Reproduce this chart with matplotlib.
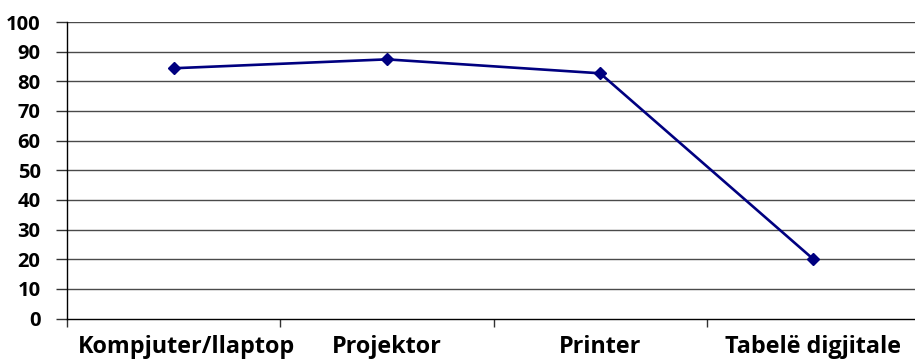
import matplotlib
matplotlib.use('Agg')
import matplotlib.pyplot as plt
import matplotlib.transforms as mtransforms
import numpy as np

# Pajisjet dhe përqindjet
pajisjet = ['Kompjuter/llaptop', 'Projektor', 'Printer', 'Tabelë digjitale']
perqindjet = [84.4, 87.4, 82.7, 20]

plt.rcParams['font.family'] = ['Open Sans', 'DejaVu Sans']

fig = plt.figure(figsize=(9.15, 3.59), dpi=100)
ax = fig.add_axes([67 / 915, 40.5 / 359, 853 / 915, 296.5 / 359])

x = np.arange(len(pajisjet)) + 0.5
ax.plot(x, perqindjet, color='#000080', linewidth=1.9, marker='D',
        markersize=6.5, markerfacecolor='#000080', markeredgecolor='#000080',
        zorder=3)

ax.set_xlim(0, len(pajisjet))
ax.set_ylim(0, 100)
ax.set_yticks(np.arange(0, 101, 10))

# Vijat horizontale
for v in np.arange(10, 101, 10):
    ax.axhline(v, color='#4a4a4a', linewidth=1.0, zorder=1)

# Ndarjet e kategorive në boshtin x
ax.set_xticks(np.arange(0, len(pajisjet) + 1), minor=False)
ax.set_xticklabels([])
ax.set_xticks(x, minor=True)
ax.set_xticklabels(pajisjet, minor=True, fontsize=16.8, fontweight='bold')
ax.tick_params(axis='x', which='major', length=6, width=1, color='#333333',
               direction='out')
ax.tick_params(axis='x', which='minor', length=0, pad=12)
ax.tick_params(axis='y', length=8, width=1, color='#333333', pad=11,
               labelsize=14.5)
for lbl in ax.get_yticklabels():
    lbl.set_fontweight('bold')

# Etiketa e parë pak djathtas
lbl0 = ax.xaxis.get_minorticklabels()[0]
lbl0.set_transform(lbl0.get_transform() +
                   mtransforms.ScaledTranslation(13 / 100, 0, fig.dpi_scale_trans))

for s in ['top', 'right']:
    ax.spines[s].set_visible(False)
ax.spines['left'].set_color('black')
ax.spines['bottom'].set_color('black')
ax.spines['left'].set_linewidth(1)
ax.spines['bottom'].set_linewidth(1)

fig.savefig('out.png', dpi=100)
